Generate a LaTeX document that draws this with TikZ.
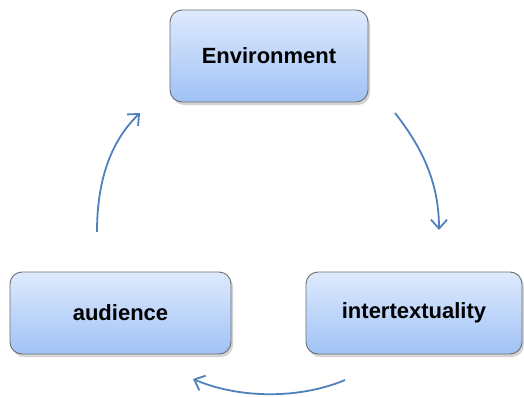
\documentclass[tikz,border=0pt]{standalone}
\usepackage{fontspec}
\setmainfont{Liberation Sans}
\usetikzlibrary{shadows,arrows.meta}
\definecolor{arrowblue}{RGB}{79,129,189}
\definecolor{boxtop}{RGB}{222,234,253}
\definecolor{boxbot}{RGB}{160,194,246}
\definecolor{boxline}{RGB}{110,110,110}
\tikzset{
  box/.style={draw=boxline, line width=0.9pt, rounded corners=12pt,
    top color=boxtop, bottom color=boxbot,
    drop shadow={shadow xshift=2pt, shadow yshift=-3pt, opacity=0.35},
    font=\fontsize{22}{26}\selectfont\bfseries, text=black},
  flow/.style={draw=arrowblue, line width=1.8pt,
    -{Straight Barb[length=9pt,width=16pt,line width=1.8pt]}}
}
\begin{document}
\begin{tikzpicture}[x=1pt,y=-1pt]
\useasboundingbox (0,0) rectangle (524,396);
\node[box, minimum width=198pt, minimum height=92pt] (env) at (269,56) {Environment};
\node[box, minimum width=221pt, minimum height=82pt] (aud) at (120.5,313) {audience};
\node[box, minimum width=216pt, minimum height=82pt] (inter) at (414,313) {intertextuality};
\coordinate (a1) at (97,232);
\coordinate (a2) at (140,113);
\coordinate (b1) at (395,113);
\coordinate (b2) at (439,230);
\coordinate (c1) at (345,380);
\coordinate (c2) at (193,379);
\draw[flow] (a1) .. controls (97,178) and (112,140) .. (a2);
\draw[flow] (b1) .. controls (420,145) and (439,180) .. (b2);
\draw[flow] (c1) .. controls (300,399) and (240,399) .. (c2);
\end{tikzpicture}
\end{document}
